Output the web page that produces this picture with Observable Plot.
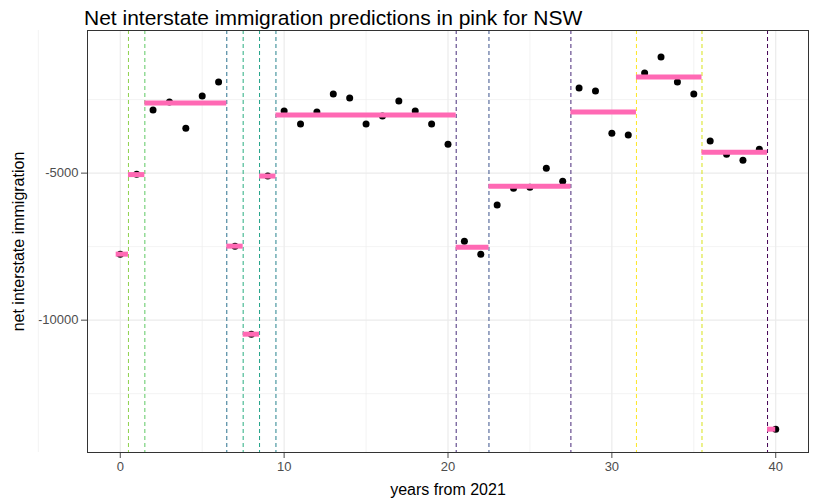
<!DOCTYPE html>
<html><head><meta charset="utf-8">
<script src="https://cdn.jsdelivr.net/npm/d3@7"></script>
<script src="https://cdn.jsdelivr.net/npm/@observablehq/plot@0.6"></script>
<style>
body{margin:0;background:#fff;font-family:"Liberation Sans",Arial,sans-serif}
h2{font-weight:normal;font-size:21px;margin:0;padding:8px 0 0 84px;height:20px;line-height:20px;color:#000}
</style></head><body>
<h2>Net interstate immigration predictions in pink for NSW</h2>
<div id="chart"></div>
<script>
const years = d3.range(0, 41);
const immigration = [-7755,-5034,-2857,-2585,-3470,-2380,-1905,-7483,-10476,-5100,
  -2890,-3333,-2925,-2313,-2449,-3333,-3061,-2551,-2890,-3333,-4014,
  -7313,-7755,-6088,-5510,-5476,-4830,-5272,-2109,-2211,-3640,-3707,
  -1599,-1054,-1905,-2313,-3911,-4354,-4558,-4184,-13707];
const segStart = [-0.25,0.5,1.5,6.5,7.5,8.5,9.5,20.5,22.5,27.5,31.5,35.5,39.5];
const segEnd   = [0.5,1.5,6.5,7.5,8.5,9.5,20.5,22.5,27.5,31.5,35.5,39.5,40];
const segValue = [-7755,-5050,-2619,-7483,-10476,-5100,-3027,-7517,-5442,-2925,-1735,-4286,-13707];
const breaks = [0.5,1.5,6.5,7.5,8.5,9.5,20.5,22.5,27.5,31.5,35.5,39.5];
const breakColors = ["#8fd14f","#5ec962","#2c728e","#28ae80","#1fa187","#26828e",
  "#472d7b","#3b528b","#482878","#fde725","#d8e219","#440154"];

const pts = years.map((y, i) => ({x: y, v: immigration[i]}));
const segs = segStart.map((s, i) => ({x1: s, x2: segEnd[i], v: segValue[i]}));
const brk = breaks.map((b, i) => ({x: b, c: breakColors[i]}));

const chart = Plot.plot({
  width: 816, height: 476,
  marginLeft: 87, marginRight: 8, marginTop: 2, marginBottom: 52,
  style: {fontFamily: "Liberation Sans, Arial, sans-serif", fontSize: "13px", color: "#4d4d4d"},
  x: {domain: [-2, 42], ticks: [0,10,20,30,40], tickFormat: d3.format("d"), label: "years from 2021", labelArrow: "none", labelAnchor: "center", labelOffset: 42},
  y: {domain: [-14500, -150], ticks: [-10000, -5000], tickFormat: d => String(d).replace("−","-"), label: "net interstate immigration", labelArrow: "none", labelAnchor: "center", labelOffset: 75},
  marks: [
    Plot.gridX([-5,5,15,25,35], {stroke: "#ebebeb", strokeOpacity: 1, strokeWidth: 0.6}),
    Plot.gridY([-12500,-7500,-2500], {stroke: "#ebebeb", strokeOpacity: 1, strokeWidth: 0.6}),
    Plot.gridX([0,10,20,30,40], {stroke: "#ebebeb", strokeOpacity: 1, strokeWidth: 1.2}),
    Plot.gridY([-10000,-5000], {stroke: "#ebebeb", strokeOpacity: 1, strokeWidth: 1.2}),
    Plot.ruleX(brk, {x: "x", stroke: "c", strokeDasharray: "4,3", strokeWidth: 1}),
    Plot.dot(pts, {x: "x", y: "v", r: 3.5, fill: "black"}),
    Plot.ruleY(segs, {x1: "x1", x2: "x2", y: "v", stroke: "#ff69b4", strokeWidth: 5}),
    Plot.frame({stroke: "#333", strokeWidth: 1})
  ]
});
d3.select(chart).selectAll("[aria-label='x-axis label'] text, [aria-label='y-axis label'] text").attr("fill","#000").style("font-size","16px");
document.getElementById("chart").append(chart);
</script></body></html>
